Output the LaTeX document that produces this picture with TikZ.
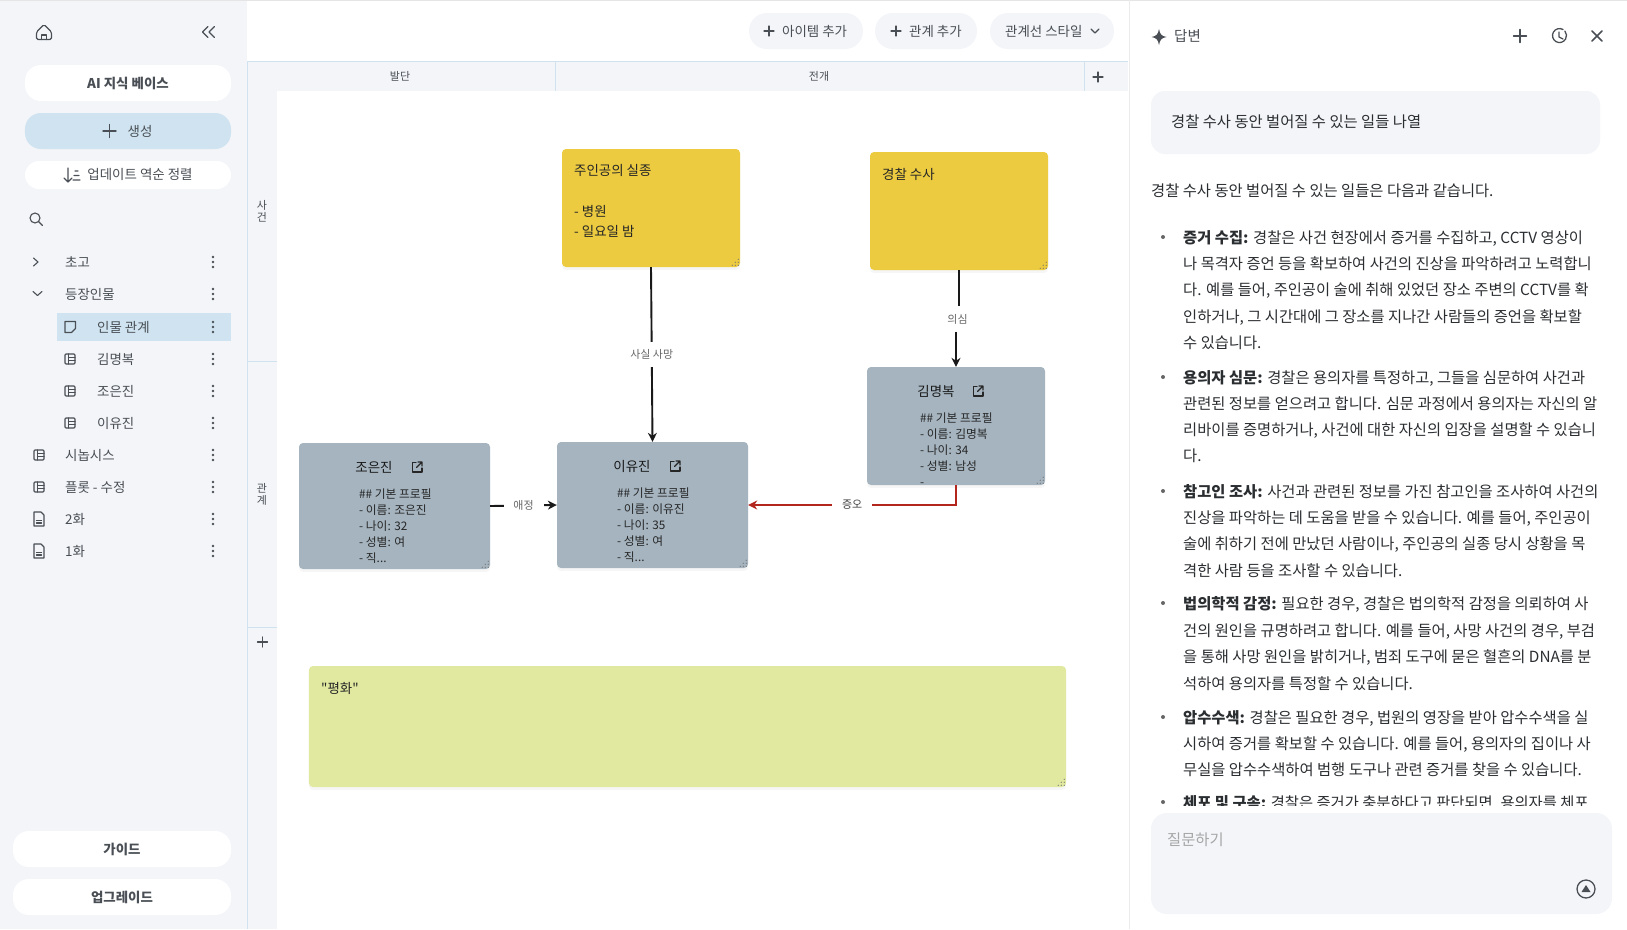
\documentclass[tikz,border=0pt]{standalone}
\usepackage{fontspec}
\setmainfont{Noto Sans CJK KR}
\newfontfamily\plainfont{Noto Sans CJK KR}
\usetikzlibrary{arrows.meta,shadows}
\definecolor{sidebg}{HTML}{F3F5F9}
\definecolor{linecol}{HTML}{CFE2EE}
\definecolor{activecol}{HTML}{CFE4F0}
\definecolor{yellownote}{HTML}{ECCB40}
\definecolor{greynote}{HTML}{A5B4BF}
\definecolor{greennote}{HTML}{E0E99F}
\definecolor{redline}{HTML}{B3261E}
\definecolor{txtcol}{HTML}{4A4F55}
\definecolor{anscol}{HTML}{2B2E31}
\tikzset{
  pill/.style={fill=white,rounded corners=16pt,inner sep=0pt},
  uitext/.style={font=\fontsize{13.5}{16}\selectfont,text=txtcol,inner sep=0pt},
  iconline/.style={draw=txtcol,line width=1.1pt,line cap=round,line join=round},
  note/.style={rounded corners=4pt,inner sep=0pt,drop shadow={opacity=.07,shadow xshift=0pt,shadow yshift=-3pt}},
  notetext/.style={font=\fontsize{11.8}{16}\selectfont,text=black!85,inner sep=0pt,anchor=north west,align=left},
  notetitle/.style={font=\fontsize{13.5}{16}\selectfont,text=black!90,inner sep=0pt},
  edgelabel/.style={font=\fontsize{11}{13}\selectfont,text=black!60,fill=white,inner sep=0pt,minimum width=40bp,minimum height=25bp},
  link/.style={draw=black!90,line width=1.9pt,-{Stealth[length=9pt,width=9pt]}},
  redlink/.style={draw=redline,line width=1.9pt,-{Stealth[length=9pt,width=9pt]}},
  ansline/.style={font=\fontsize{15.4}{20}\selectfont,text=anscol,inner sep=0pt,anchor=base west},
  plusicon/.pic={\draw[iconline] (-5,0) -- (5,0) (0,-5) -- (0,5);},
  bigplusicon/.pic={\draw[iconline,line width=1.4pt] (-6.5,0) -- (6.5,0) (0,-6.5) -- (0,6.5);},
  dotsicon/.pic={\foreach \d in {-5,0,5} \fill[txtcol] (0,\d) circle[radius=1.3];},
  sheeticon/.pic={\draw[iconline,rounded corners=1pt] (-5,-5) rectangle (5,5);
    \draw[iconline] (-1.5,-5) -- (-1.5,5) (-1.5,-1.7) -- (5,-1.7) (-1.5,1.7) -- (5,1.7);},
  docicon/.pic={\draw[iconline] (-5,-7) -- (2,-7) -- (5,-4) -- (5,7) -- (-5,7) -- cycle;
    \draw[iconline] (-2.5,1.5) -- (2.5,1.5) (-2.5,4) -- (2.5,4);},
  noteicon/.pic={\draw[iconline] (-5,-5.5) -- (5.5,-5.5) -- (5.5,1.5) -- (1.5,5.5) -- (-5,5.5) -- cycle;},
  linkicon/.pic={\draw[iconline,line width=1.2pt,draw=black!85] (-1,-4.5) -- (-4.5,-4.5) -- (-4.5,5) -- (5,5) -- (5,1);
    \draw[iconline,line width=1.2pt,draw=black!85] (-.5,.5) -- (5,-5) (1,-5) -- (5,-5) -- (5,-1);},
  gripicon/.pic={\foreach \a/\b in {2/2,5/2,8/2,2/5,5/5,2/8} \fill[black!55] (-\a,-\b) circle[radius=.6];}
}
\begin{document}
\begin{tikzpicture}[x=1bp,y=-1bp]
\useasboundingbox (0,0) rectangle (1627,929);
\fill[white] (0,0) rectangle (1627,929);
\fill[sidebg] (0,0) rectangle (247,929);
\fill[sidebg] (247,61) rectangle (1128,91);
\fill[sidebg] (247,91) rectangle (277,929);
\draw[black!10] (0,.5) -- (1627,.5);
\draw[linecol] (247,61) -- (247,929);
\draw[linecol] (247,61) -- (1128,61);
\draw[linecol] (555,61) -- (555,91);
\draw[linecol] (1084,61) -- (1084,91);
\draw[linecol] (247,361) -- (277,361);
\draw[linecol] (247,627) -- (277,627);
\draw[black!8] (1129.5,0) -- (1129.5,929);

\draw[iconline,rounded corners=1.5pt] (36.5,32) -- (44,24.5) -- (51.5,32) -- (51.5,39.5) -- (36.5,39.5) -- cycle;
\draw[iconline] (41.5,39.5) -- (41.5,35) -- (46.5,35) -- (46.5,39.5);
\draw[iconline,line width=1.4pt] (208,26.5) -- (202.5,32) -- (208,37.5) (214.5,26.5) -- (209,32) -- (214.5,37.5);
\node[pill,minimum width=206bp,minimum height=36bp,font=\fontsize{13.5}{16}\selectfont\bfseries,text=txtcol] (base) at (128,83) {AI 지식 베이스};
\node[pill,fill=activecol,minimum width=206bp,minimum height=36bp] (create) at (128,131) {};
\pic at (109.5,131) {bigplusicon};
\node[uitext] (createtxt) at (140,131) {생성};
\node[pill,minimum width=206bp,minimum height=28bp,rounded corners=14pt] (sortbtn) at (128,175) {};
\draw[iconline] (68,168) -- (68,182) (64,178) -- (68,182) -- (72,178) (75,171) -- (78,171) (74,175.5) -- (79,175.5) (73,180) -- (80,180);
\node[uitext] (sorttxt) at (140,174) {업데이트 역순 정렬};
\draw[iconline] (35,218) circle[radius=5] (38.7,221.7) -- (42.5,225.5);

\fill[activecol] (57,313) rectangle (231,341);
\draw[iconline] (33.5,258) -- (38,262) -- (33.5,266);
\draw[iconline] (33,291.5) -- (37.5,295.5) -- (42,291.5);
\foreach \y/\xi/\xt/\ic/\txt in {262/0/65//초고,294/0/65//등장인물,327/70/97/noteicon/인물 관계,359/70/97/sheeticon/김명복,391/70/97/sheeticon/조은진,423/70/97/sheeticon/이유진,455/39/65/sheeticon/시놉시스,487/39/65/sheeticon/플롯 - 수정,519/39/65/docicon/2화,551/39/65/docicon/1화}{
  \node[uitext,anchor=west] (row\y) at (\xt,\y) {\txt};
  \pic at (213,\y) {dotsicon};
  \ifnum\xi>0 \pic at (\xi,\y) {\ic}; \fi
}
\node[pill,minimum width=218bp,minimum height=36bp,font=\fontsize{13.5}{16}\selectfont\bfseries,text=txtcol] (guide) at (122,849) {가이드};
\node[pill,minimum width=218bp,minimum height=36bp,font=\fontsize{13.5}{16}\selectfont\bfseries,text=txtcol] (upgrade) at (122,897) {업그레이드};

\node[pill,fill=sidebg,minimum width=114bp,minimum height=36bp,rounded corners=18pt] (additem) at (806,31) {};
\node[pill,fill=sidebg,minimum width=102bp,minimum height=36bp,rounded corners=18pt] (addrel) at (926,31) {};
\node[pill,fill=sidebg,minimum width=124bp,minimum height=36bp,rounded corners=18pt] (relstyle) at (1052,31) {};
\pic at (769,31) {plusicon};
\pic at (896,31) {plusicon};
\node[uitext,anchor=west] (additemtxt) at (782,31) {아이템 추가};
\node[uitext,anchor=west] (addreltxt) at (909,31) {관계 추가};
\node[uitext,anchor=west] (relstyletxt) at (1005,31) {관계선 스타일};
\draw[iconline] (1091,29) -- (1095,33) -- (1099,29);

\node[uitext,font=\fontsize{11}{13}\selectfont] (stage1) at (400,76) {발단};
\node[uitext,font=\fontsize{11}{13}\selectfont] (stage2) at (819,76) {전개};
\pic at (1098,77) {plusicon};
\node[uitext,font=\fontsize{11}{12}\selectfont,align=center] (lane1) at (262,211) {사\\건};
\node[uitext,font=\fontsize{11}{12}\selectfont,align=center] (lane2) at (262,494) {관\\계};
\pic at (262.5,642) {plusicon};

\node[note,fill=yellownote,minimum width=178bp,minimum height=118bp] (missing) at (651,208) {};
\node[note,fill=yellownote,minimum width=178bp,minimum height=118bp] (police) at (959,211) {};
\node[note,fill=greynote,minimum width=178bp,minimum height=118bp] (kim) at (956,426) {};
\node[note,fill=greynote,minimum width=191bp,minimum height=126bp] (jo) at (394.5,506) {};
\node[note,fill=greynote,minimum width=191bp,minimum height=126bp] (yi) at (652.5,505) {};
\node[note,fill=greennote,minimum width=757bp,minimum height=121bp] (peace) at (687.5,726.5) {};
\foreach \n in {missing,police,kim,jo,yi,peace}
  \pic at (\n.south east) {gripicon};

\node[notetext,font=\fontsize{13.5}{20.3}\selectfont] (missingtxt) at (574,164.5) {주인공의 실종\\[20.3pt]- 병원\\- 일요일 밤};
\node[notetext,font=\fontsize{13.5}{20}\selectfont,anchor=base west] (policetxt) at (882,179) {경찰 수사};
\node[notetext,font=\fontsize{13.5}{20}\selectfont\plainfont,anchor=base west] (peacetxt) at (321,693) {"평화"};

\node[notetitle] (jotitle) at (374,467) {조은진};
\pic at (417,467) {linkicon};
\node[notetext] (jotxt) at (359,488.5) {\#\# 기본 프로필\\- 이름: 조은진\\- 나이: 32\\- 성별: 여\\- 직...};
\node[notetitle] (yititle) at (632,466) {이유진};
\pic at (675,466) {linkicon};
\node[notetext] (yitxt) at (617,487.5) {\#\# 기본 프로필\\- 이름: 이유진\\- 나이: 35\\- 성별: 여\\- 직...};
\node[notetitle] (kimtitle) at (936,391) {김명복};
\pic at (978,391) {linkicon};
\node[notetext] (kimtxt) at (920,413) {\#\# 기본 프로필\\- 이름: 김명복\\- 나이: 34\\- 성별: 남성\\-};

\draw[link] (missing.south) -- node[edgelabel] (deathlab) {사실 사망} (yi.north);
\draw[link] (jo.east) -- node[edgelabel] (lovelab) {애정} (yi.west);
\draw[redlink] (kim.south) |- node[edgelabel,pos=.75,text=black!75] (hatelab) {증오} (yi.east);
\node[edgelabel] (doubtlab) at (957.5,319) {의심};
\draw[link,-] (police.south) -- (police.south |- doubtlab.north);
\draw[link] (kim.north |- doubtlab.south) -- (kim.north);

\path[fill=txtcol] (1159,29) .. controls (1160,34.5) and (1161.5,36) .. (1166.5,37) .. controls (1161.5,38) and (1160,39.5) .. (1159,45) .. controls (1158,39.5) and (1156.5,38) .. (1151.5,37) .. controls (1156.5,36) and (1158,34.5) .. (1159,29) -- cycle;
\node[uitext,anchor=west,font=\fontsize{14.5}{16}\selectfont] (anstitle) at (1174,36) {답변};
\pic at (1520,36) {bigplusicon};
\draw[iconline,line width=1.3pt] (1563,29.5) arc[start angle=-60,end angle=-400,radius=7];
\draw[iconline,line width=1.3pt] (1559,32) -- (1559,37) -- (1563,39);
\draw[iconline,line width=1.6pt] (1592,31) -- (1602,41) (1602,31) -- (1592,41);
\node[pill,fill=sidebg,minimum width=449bp,minimum height=63bp,rounded corners=14pt] (question) at (1375.5,122.5) {};
\node[ansline] (questiontxt) at (1171,127.5) {경찰 수사 동안 벌어질 수 있는 일들 나열};
\node[ansline] (intro) at (1151,196.5) {경찰 수사 동안 벌어질 수 있는 일들은 다음과 같습니다.};

\foreach \y in {237,377,491,603,717}
  \fill[black!60] (1163,\y) circle[radius=2];
\foreach \y/\txt in {
  237/{\textbf{증거 수집:} 경찰은 사건 현장에서 증거를 수집하고, CCTV 영상이},
  263/{나 목격자 증언 등을 확보하여 사건의 진상을 파악하려고 노력합니},
  289/{다. 예를 들어, 주인공이 술에 취해 있었던 장소 주변의 CCTV를 확},
  316/{인하거나, 그 시간대에 그 장소를 지나간 사람들의 증언을 확보할},
  342/{수 있습니다.},
  377/{\textbf{용의자 심문:} 경찰은 용의자를 특정하고, 그들을 심문하여 사건과},
  403/{관련된 정보를 얻으려고 합니다. 심문 과정에서 용의자는 자신의 알},
  429/{리바이를 증명하거나, 사건에 대한 자신의 입장을 설명할 수 있습니},
  455/{다.},
  491/{\textbf{참고인 조사:} 사건과 관련된 정보를 가진 참고인을 조사하여 사건의},
  517/{진상을 파악하는 데 도움을 받을 수 있습니다. 예를 들어, 주인공이},
  543/{술에 취하기 전에 만났던 사람이나, 주인공의 실종 당시 상황을 목},
  570/{격한 사람 등을 조사할 수 있습니다.},
  603/{\textbf{법의학적 감정:} 필요한 경우, 경찰은 법의학적 감정을 의뢰하여 사},
  630/{건의 원인을 규명하려고 합니다. 예를 들어, 사망 사건의 경우, 부검},
  656/{을 통해 사망 원인을 밝히거나, 범죄 도구에 묻은 혈흔의 DNA를 분},
  683/{석하여 용의자를 특정할 수 있습니다.},
  717/{\textbf{압수수색:} 경찰은 필요한 경우, 법원의 영장을 받아 압수수색을 실},
  743/{시하여 증거를 확보할 수 있습니다. 예를 들어, 용의자의 집이나 사},
  769/{무실을 압수수색하여 범행 도구나 관련 증거를 찾을 수 있습니다.}
}
  \node[ansline] (ans\y) at (1183,\y+6) {\txt};
\begin{scope}
\clip (1131,790) rectangle (1627,805.5);
\fill[black!60] (1163,802) circle[radius=2];
\node[ansline] (ans802) at (1183,808) {\textbf{체포 및 구속:} 경찰은 증거가 충분하다고 판단되면, 용의자를 체포};
\end{scope}
\node[pill,fill=sidebg,minimum width=461bp,minimum height=101bp,rounded corners=16pt] (askbox) at (1381.5,863.5) {};
\node[ansline,text=black!35] (asktxt) at (1167,845) {질문하기};
\draw[iconline,line width=1.3pt] (1586,889) circle[radius=9];
\fill[txtcol] (1581.5,892) -- (1586,885) -- (1590.5,892) -- cycle;
\end{tikzpicture}
\end{document}
